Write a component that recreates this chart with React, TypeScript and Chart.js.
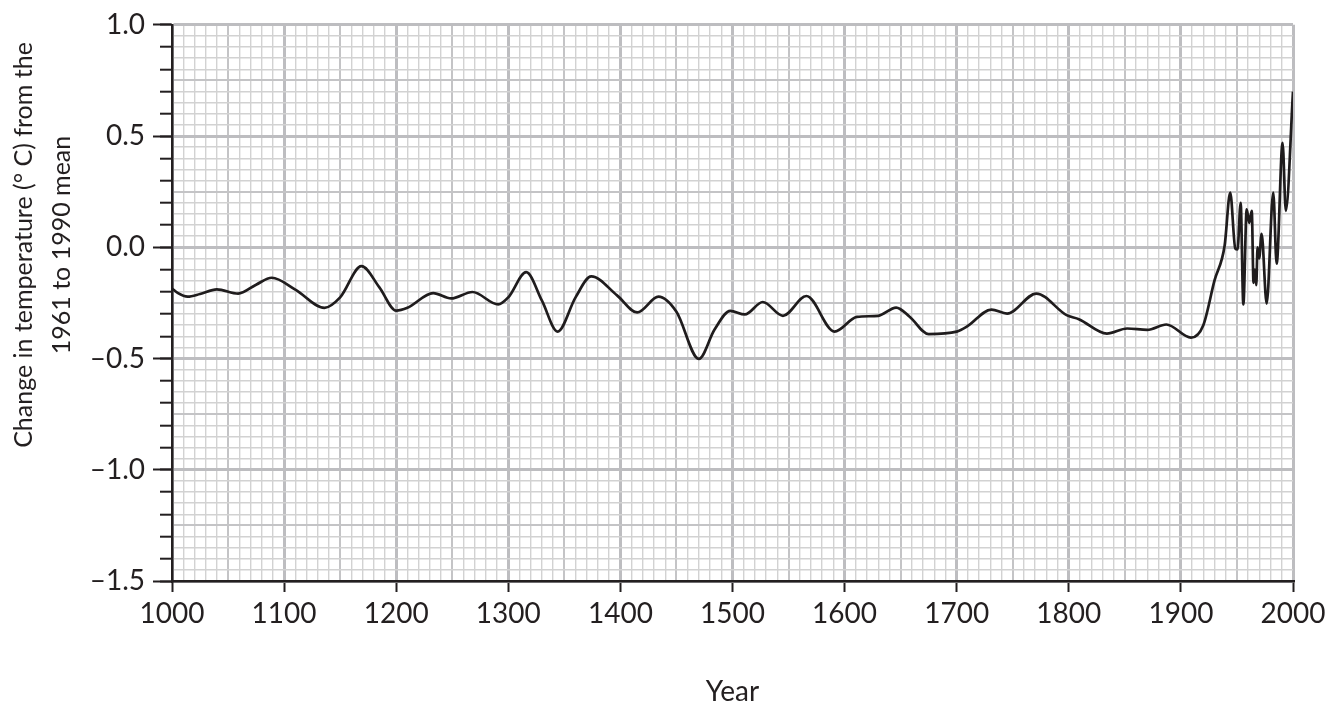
import React, { useEffect, useRef } from "react";
import { Chart, registerables } from "chart.js";

Chart.register(...registerables);

const FONT = "Lato";

const years: number[] = [
  1000, 1005, 1014, 1025, 1040, 1059, 1075, 1089, 1110, 1136, 1150, 1169, 1185,
  1200, 1210, 1233, 1249, 1268, 1291, 1300, 1316, 1330, 1344, 1360, 1374, 1397,
  1415, 1434, 1450, 1470, 1484, 1498, 1511, 1527, 1545, 1566, 1591, 1611, 1630,
  1646, 1658, 1675, 1700, 1709, 1731, 1745, 1771, 1798, 1809, 1834, 1852, 1870,
  1887, 1909, 1920, 1930, 1939, 1944, 1948.5, 1950.5, 1953.3, 1955.7, 1958.7,
  1961, 1963.2, 1964.8, 1966, 1967.2, 1968.4, 1969.8, 1972, 1976.5, 1982.4,
  1985.4, 1990.7, 1993.6, 2000,
];

const temps: number[] = [
  -0.185, -0.205, -0.222, -0.21, -0.189, -0.208, -0.168, -0.137, -0.19, -0.272,
  -0.225, -0.085, -0.18, -0.285, -0.272, -0.206, -0.23, -0.201, -0.257, -0.225,
  -0.112, -0.24, -0.379, -0.225, -0.131, -0.216, -0.293, -0.222, -0.29, -0.502,
  -0.37, -0.286, -0.302, -0.246, -0.308, -0.219, -0.379, -0.313, -0.308, -0.271,
  -0.312, -0.39, -0.379, -0.357, -0.28, -0.298, -0.208, -0.305, -0.323, -0.388,
  -0.365, -0.371, -0.347, -0.406, -0.35, -0.149, 0.007, 0.246, -0.005, -0.01,
  0.2, -0.257, 0.171, 0.11, 0.164, -0.16, -0.1, -0.17, 0.0, -0.05, 0.06, -0.253,
  0.246, -0.074, 0.469, 0.164, 0.7,
];

const yTitleLines: string[] = ["Change in temperature (\u00b0 C) from the", "1961 to 1990 mean"];
const xTitle = "Year";

const X_MIN = 1000;
const X_MAX = 2000;
const Y_MIN = -1.5;
const Y_MAX = 1.0;

const MINOR = { color: "#d2d2d2", width: 1.4 };
const MEDIUM = { color: "#c4c4c6", width: 2 };
const MAJOR = { color: "#bdbdc0", width: 3 };

function xKind(v: number) {
  const r = Math.round(v);
  if (r % 100 === 0) return MAJOR;
  if (r % 50 === 0) return MEDIUM;
  return MINOR;
}
function yKind(v: number) {
  const k = Math.round(v / 0.05);
  if (k % 10 === 0) return MAJOR;
  if (k % 5 === 0) return MEDIUM;
  return MINOR;
}

const yTitlePlugin = {
  id: "yTitleText",
  afterDraw(chart: any) {
    const ctx = chart.ctx;
    ctx.save();
    ctx.fillStyle = "#231f20";
    ctx.font = `25px ${FONT}`;
    ctx.textAlign = "center";
    ctx.textBaseline = "middle";
    const cy = 245;
    const xs = [24, 62];
    yTitleLines.forEach((line, i) => {
      ctx.save();
      ctx.translate(xs[i], cy);
      ctx.rotate(-Math.PI / 2);
      ctx.fillText(line, 0, 0);
      ctx.restore();
    });
    ctx.restore();
  },
};

export default function App() {
  const ref = useRef<HTMLCanvasElement | null>(null);

  useEffect(() => {
    document.body.style.margin = "0";
    const canvas = ref.current;
    if (!canvas) return;
    const chart = new Chart(canvas, {
      type: "line",
      data: {
        datasets: [
          {
            data: years.map((y, i) => ({ x: y, y: temps[i] })),
            borderColor: "#1f1c1d",
            borderWidth: 2.7,
            pointRadius: 0,
            fill: false,
            cubicInterpolationMode: "monotone",
          },
        ],
      },
      options: {
        animation: false,
        responsive: false,
        parsing: false as any,
        layout: { padding: { top: 21, right: 51, bottom: 0, left: 0 } },
        plugins: {
          legend: { display: false },
          tooltip: { enabled: false },
        },
        scales: {
          x: {
            type: "linear",
            position: "bottom",
            min: X_MIN,
            max: X_MAX,
            afterFit: (s: any) => {
              s.height = 128;
            },
            ticks: {
              stepSize: 10,
              autoSkip: false,
              maxRotation: 0,
              minRotation: 0,
              padding: 5,
              color: "#231f20",
              font: { family: FONT, size: 28 },
              callback: (v: any) => (Math.round(Number(v)) % 100 === 0 ? String(Math.round(Number(v))) : ""),
            },
            grid: {
              color: (c: any) => (c.tick ? xKind(c.tick.value).color : MINOR.color),
              lineWidth: (c: any) => (c.tick ? xKind(c.tick.value).width : MINOR.width),
              tickColor: (c: any) =>
                c.tick && Math.round(c.tick.value) % 100 === 0 ? "#231f20" : "rgba(0,0,0,0)",
              tickLength: 11,
              tickWidth: 2,
            },
            border: { display: true, color: "#231f20", width: 2.5 },
            title: {
              display: true,
              text: xTitle,
              color: "#231f20",
              font: { family: FONT, size: 28 },
              padding: { top: 0, bottom: 0 },
            },
          },
          y: {
            type: "linear",
            position: "left",
            weight: 0,
            min: Y_MIN,
            max: Y_MAX,
            afterFit: (s: any) => {
              s.width = 0;
            },
            ticks: {
              stepSize: 0.05,
              autoSkip: false,
              display: false,
            },
            grid: {
              color: (c: any) => (c.tick ? yKind(c.tick.value).color : MINOR.color),
              lineWidth: (c: any) => (c.tick ? yKind(c.tick.value).width : MINOR.width),
              tickColor: (c: any) =>
                c.tick && Math.round(c.tick.value / 0.05) % 2 === 0 ? "#231f20" : "rgba(0,0,0,0)",
              tickLength: 12,
              tickWidth: 2,
            },
            border: { display: true, color: "#231f20", width: 2.5 },
          },
          yMajor: {
            type: "linear",
            position: "left",
            weight: 10,
            min: Y_MIN,
            max: Y_MAX,
            afterFit: (s: any) => {
              s.width = 172;
            },
            ticks: {
              stepSize: 0.5,
              autoSkip: false,
              padding: 8,
              color: "#231f20",
              font: { family: FONT, size: 28 },
              callback: (v: any) => Number(v).toFixed(1).replace("-", "\u2013"),
            },
            grid: {
              drawOnChartArea: false,
              tickColor: "#231f20",
              tickLength: 19,
              tickWidth: 2,
            },
            border: { display: false },
          },
        },
      },
      plugins: [yTitlePlugin],
    } as any);
    return () => chart.destroy();
  }, []);

  return <canvas ref={ref} width={1344} height={709} style={{ display: "block" }} />;
}
